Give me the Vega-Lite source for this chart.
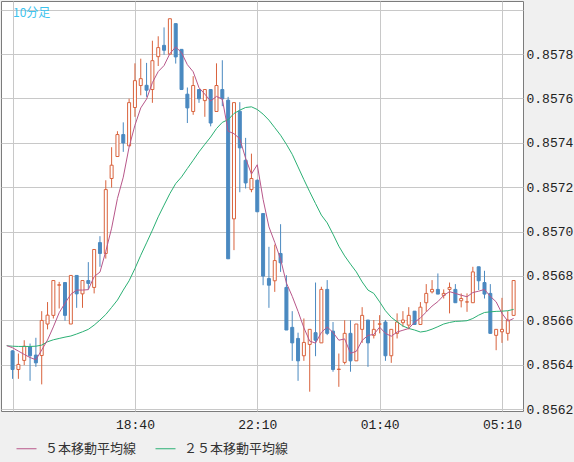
{
  "$schema": "https://vega.github.io/schema/vega-lite/v6.json",
  "width": 522,
  "height": 410,
  "autosize": {"type": "none"},
  "padding": {"left": 1, "top": 1, "right": 51, "bottom": 51},
  "background": "#f0f0f0",
  "config": {
    "view": {"fill": "white", "stroke": "#7c7c7c", "strokeWidth": 1}
  },
  "title": {
    "text": "10分足",
    "anchor": "start",
    "frame": "group",
    "orient": "top",
    "offset": -19,
    "dx": 12,
    "font": "Noto Sans CJK JP",
    "fontSize": 12,
    "fontWeight": "normal",
    "color": "#3cc3ee"
  },
  "data": {
    "values": [
      {"t": "2024-01-01T15:00", "ma5": 0.856486, "ma25": 0.856485},
      {"t": "2024-01-01T15:10", "o": 0.856462, "h": 0.856465, "l": 0.856336, "c": 0.856378, "ma5": 0.856476, "ma25": 0.856483},
      {"t": "2024-01-01T15:20", "o": 0.856378, "h": 0.856450, "l": 0.856336, "c": 0.856401, "ma5": 0.856461, "ma25": 0.856482},
      {"t": "2024-01-01T15:30", "o": 0.856419, "h": 0.856510, "l": 0.856398, "c": 0.856483, "ma5": 0.856446, "ma25": 0.856482},
      {"t": "2024-01-01T15:40", "o": 0.856480, "h": 0.856495, "l": 0.856327, "c": 0.856440, "ma5": 0.856432, "ma25": 0.856482},
      {"t": "2024-01-01T15:50", "o": 0.856443, "h": 0.856521, "l": 0.856390, "c": 0.856408, "ma5": 0.856422, "ma25": 0.856483},
      {"t": "2024-01-01T16:00", "o": 0.856441, "h": 0.856641, "l": 0.856311, "c": 0.856599, "ma5": 0.856466, "ma25": 0.856488},
      {"t": "2024-01-01T16:10", "o": 0.856583, "h": 0.856682, "l": 0.856559, "c": 0.856623, "ma5": 0.856511, "ma25": 0.856503},
      {"t": "2024-01-01T16:20", "o": 0.856622, "h": 0.856780, "l": 0.856608, "c": 0.856779, "ma5": 0.856570, "ma25": 0.856512},
      {"t": "2024-01-01T16:30", "o": 0.856758, "h": 0.856773, "l": 0.856653, "c": 0.856760, "ma5": 0.856634, "ma25": 0.856518},
      {"t": "2024-01-01T16:40", "o": 0.856770, "h": 0.856772, "l": 0.856598, "c": 0.856622, "ma5": 0.856677, "ma25": 0.856524},
      {"t": "2024-01-01T16:50", "o": 0.856583, "h": 0.856802, "l": 0.856583, "c": 0.856802, "ma5": 0.856717, "ma25": 0.856529},
      {"t": "2024-01-01T17:00", "o": 0.856802, "h": 0.856802, "l": 0.856656, "c": 0.856719, "ma5": 0.856736, "ma25": 0.856538},
      {"t": "2024-01-01T17:10", "o": 0.856719, "h": 0.856779, "l": 0.856656, "c": 0.856779, "ma5": 0.856736, "ma25": 0.856548},
      {"t": "2024-01-01T17:20", "o": 0.856779, "h": 0.856862, "l": 0.856739, "c": 0.856766, "ma5": 0.856738, "ma25": 0.856559},
      {"t": "2024-01-01T17:30", "o": 0.856748, "h": 0.856919, "l": 0.856721, "c": 0.856919, "ma5": 0.856797, "ma25": 0.856578},
      {"t": "2024-01-01T17:40", "o": 0.856950, "h": 0.856979, "l": 0.856841, "c": 0.856901, "ma5": 0.856817, "ma25": 0.856601},
      {"t": "2024-01-01T17:50", "o": 0.856901, "h": 0.857231, "l": 0.856878, "c": 0.857189, "ma5": 0.856911, "ma25": 0.856626},
      {"t": "2024-01-01T18:00", "o": 0.857239, "h": 0.857380, "l": 0.857198, "c": 0.857299, "ma5": 0.857015, "ma25": 0.856658},
      {"t": "2024-01-01T18:10", "o": 0.857338, "h": 0.857452, "l": 0.857336, "c": 0.857437, "ma5": 0.857149, "ma25": 0.856691},
      {"t": "2024-01-01T18:20", "o": 0.857437, "h": 0.857492, "l": 0.857359, "c": 0.857399, "ma5": 0.857245, "ma25": 0.856736},
      {"t": "2024-01-01T18:30", "o": 0.857386, "h": 0.857599, "l": 0.857386, "c": 0.857581, "ma5": 0.857381, "ma25": 0.856778},
      {"t": "2024-01-01T18:40", "o": 0.857559, "h": 0.857758, "l": 0.857517, "c": 0.857680, "ma5": 0.857479, "ma25": 0.856833},
      {"t": "2024-01-01T18:50", "o": 0.857658, "h": 0.857779, "l": 0.857614, "c": 0.857689, "ma5": 0.857557, "ma25": 0.856893},
      {"t": "2024-01-01T19:00", "o": 0.857659, "h": 0.857760, "l": 0.857607, "c": 0.857637, "ma5": 0.857597, "ma25": 0.856949},
      {"t": "2024-01-01T19:10", "o": 0.857640, "h": 0.857860, "l": 0.857580, "c": 0.857770, "ma5": 0.857671, "ma25": 0.857006},
      {"t": "2024-01-01T19:20", "o": 0.857788, "h": 0.857880, "l": 0.857746, "c": 0.857829, "ma5": 0.857721, "ma25": 0.857066},
      {"t": "2024-01-01T19:30", "o": 0.857839, "h": 0.857920, "l": 0.857797, "c": 0.857817, "ma5": 0.857748, "ma25": 0.857119},
      {"t": "2024-01-01T19:40", "o": 0.857799, "h": 0.857959, "l": 0.857799, "c": 0.857959, "ma5": 0.857802, "ma25": 0.857171},
      {"t": "2024-01-01T19:50", "o": 0.857937, "h": 0.857937, "l": 0.857757, "c": 0.857787, "ma5": 0.857832, "ma25": 0.857216},
      {"t": "2024-01-01T20:00", "o": 0.857821, "h": 0.857821, "l": 0.857640, "c": 0.857640, "ma5": 0.857806, "ma25": 0.857246},
      {"t": "2024-01-01T20:10", "o": 0.857619, "h": 0.857649, "l": 0.857489, "c": 0.857557, "ma5": 0.857752, "ma25": 0.857284},
      {"t": "2024-01-01T20:20", "o": 0.857541, "h": 0.857700, "l": 0.857526, "c": 0.857658, "ma5": 0.857720, "ma25": 0.857321},
      {"t": "2024-01-01T20:30", "o": 0.857640, "h": 0.857640, "l": 0.857580, "c": 0.857598, "ma5": 0.857648, "ma25": 0.857359},
      {"t": "2024-01-01T20:40", "o": 0.857590, "h": 0.857640, "l": 0.857517, "c": 0.857640, "ma5": 0.857619, "ma25": 0.857393},
      {"t": "2024-01-01T20:50", "o": 0.857640, "h": 0.857640, "l": 0.857474, "c": 0.857489, "ma5": 0.857588, "ma25": 0.857426},
      {"t": "2024-01-01T21:00", "o": 0.857541, "h": 0.857758, "l": 0.857541, "c": 0.857658, "ma5": 0.857609, "ma25": 0.857464},
      {"t": "2024-01-01T21:10", "o": 0.857640, "h": 0.857772, "l": 0.857565, "c": 0.857598, "ma5": 0.857597, "ma25": 0.857492},
      {"t": "2024-01-01T21:20", "o": 0.857592, "h": 0.857607, "l": 0.856877, "c": 0.856877, "ma5": 0.857452, "ma25": 0.857504},
      {"t": "2024-01-01T21:30", "o": 0.857057, "h": 0.857581, "l": 0.856916, "c": 0.857581, "ma5": 0.857441, "ma25": 0.857532},
      {"t": "2024-01-01T21:40", "o": 0.857542, "h": 0.857583, "l": 0.857177, "c": 0.857377, "ma5": 0.857418, "ma25": 0.857547},
      {"t": "2024-01-01T21:50", "o": 0.857321, "h": 0.857422, "l": 0.857194, "c": 0.857219, "ma5": 0.857330, "ma25": 0.857559},
      {"t": "2024-01-01T22:00", "o": 0.857189, "h": 0.857351, "l": 0.857177, "c": 0.857239, "ma5": 0.857259, "ma25": 0.857562},
      {"t": "2024-01-01T22:10", "o": 0.857231, "h": 0.857235, "l": 0.857089, "c": 0.857089, "ma5": 0.857301, "ma25": 0.857550},
      {"t": "2024-01-01T22:20", "o": 0.857081, "h": 0.857081, "l": 0.856758, "c": 0.856799, "ma5": 0.857145, "ma25": 0.857529},
      {"t": "2024-01-01T22:30", "o": 0.856788, "h": 0.856931, "l": 0.856656, "c": 0.856758, "ma5": 0.857021, "ma25": 0.857502},
      {"t": "2024-01-01T22:40", "o": 0.856778, "h": 0.856941, "l": 0.856728, "c": 0.856869, "ma5": 0.856951, "ma25": 0.857468},
      {"t": "2024-01-01T22:50", "o": 0.856901, "h": 0.857033, "l": 0.856818, "c": 0.856859, "ma5": 0.856875, "ma25": 0.857434},
      {"t": "2024-01-01T23:00", "o": 0.856748, "h": 0.856803, "l": 0.856556, "c": 0.856556, "ma5": 0.856768, "ma25": 0.857393},
      {"t": "2024-01-01T23:10", "o": 0.856568, "h": 0.856641, "l": 0.856417, "c": 0.856498, "ma5": 0.856708, "ma25": 0.857348},
      {"t": "2024-01-01T23:20", "o": 0.856518, "h": 0.856544, "l": 0.856327, "c": 0.856417, "ma5": 0.856640, "ma25": 0.857291},
      {"t": "2024-01-01T23:30", "o": 0.856440, "h": 0.856608, "l": 0.856417, "c": 0.856500, "ma5": 0.856566, "ma25": 0.857234},
      {"t": "2024-01-01T23:40", "o": 0.856491, "h": 0.856559, "l": 0.856278, "c": 0.856559, "ma5": 0.856506, "ma25": 0.857179},
      {"t": "2024-01-01T23:50", "o": 0.856544, "h": 0.856770, "l": 0.856438, "c": 0.856510, "ma5": 0.856497, "ma25": 0.857126},
      {"t": "2024-01-02T00:00", "o": 0.856498, "h": 0.856751, "l": 0.856498, "c": 0.856739, "ma5": 0.856545, "ma25": 0.857074},
      {"t": "2024-01-02T00:10", "o": 0.856739, "h": 0.856781, "l": 0.856533, "c": 0.856541, "ma5": 0.856570, "ma25": 0.857039},
      {"t": "2024-01-02T00:20", "o": 0.856551, "h": 0.856592, "l": 0.856368, "c": 0.856378, "ma5": 0.856545, "ma25": 0.856988},
      {"t": "2024-01-02T00:30", "o": 0.856378, "h": 0.856450, "l": 0.856300, "c": 0.856380, "ma5": 0.856510, "ma25": 0.856934},
      {"t": "2024-01-02T00:40", "o": 0.856410, "h": 0.856600, "l": 0.856401, "c": 0.856541, "ma5": 0.856516, "ma25": 0.856890},
      {"t": "2024-01-02T00:50", "o": 0.856541, "h": 0.856600, "l": 0.856368, "c": 0.856417, "ma5": 0.856451, "ma25": 0.856853},
      {"t": "2024-01-02T01:00", "o": 0.856417, "h": 0.856583, "l": 0.856417, "c": 0.856583, "ma5": 0.856460, "ma25": 0.856818},
      {"t": "2024-01-02T01:10", "o": 0.856559, "h": 0.856659, "l": 0.856498, "c": 0.856622, "ma5": 0.856509, "ma25": 0.856773},
      {"t": "2024-01-02T01:20", "o": 0.856601, "h": 0.856601, "l": 0.856390, "c": 0.856498, "ma5": 0.856532, "ma25": 0.856736},
      {"t": "2024-01-02T01:30", "o": 0.856532, "h": 0.856601, "l": 0.856518, "c": 0.856559, "ma5": 0.856536, "ma25": 0.856721},
      {"t": "2024-01-02T01:40", "o": 0.856582, "h": 0.856623, "l": 0.856541, "c": 0.856584, "ma5": 0.856569, "ma25": 0.856683},
      {"t": "2024-01-02T01:50", "o": 0.856592, "h": 0.856601, "l": 0.856417, "c": 0.856440, "ma5": 0.856541, "ma25": 0.856643},
      {"t": "2024-01-02T02:00", "o": 0.856440, "h": 0.856559, "l": 0.856408, "c": 0.856559, "ma5": 0.856528, "ma25": 0.856613},
      {"t": "2024-01-02T02:10", "o": 0.856541, "h": 0.856631, "l": 0.856518, "c": 0.856592, "ma5": 0.856547, "ma25": 0.856593},
      {"t": "2024-01-02T02:20", "o": 0.856589, "h": 0.856641, "l": 0.856571, "c": 0.856601, "ma5": 0.856555, "ma25": 0.856574},
      {"t": "2024-01-02T02:30", "o": 0.856578, "h": 0.856659, "l": 0.856559, "c": 0.856622, "ma5": 0.856563, "ma25": 0.856563},
      {"t": "2024-01-02T02:40", "o": 0.856641, "h": 0.856641, "l": 0.856581, "c": 0.856581, "ma5": 0.856591, "ma25": 0.856556},
      {"t": "2024-01-02T02:50", "o": 0.856581, "h": 0.856682, "l": 0.856581, "c": 0.856659, "ma5": 0.856611, "ma25": 0.856547},
      {"t": "2024-01-02T03:00", "o": 0.856679, "h": 0.856763, "l": 0.856638, "c": 0.856721, "ma5": 0.856637, "ma25": 0.856551},
      {"t": "2024-01-02T03:10", "o": 0.856728, "h": 0.856781, "l": 0.856721, "c": 0.856739, "ma5": 0.856664, "ma25": 0.856560},
      {"t": "2024-01-02T03:20", "o": 0.856739, "h": 0.856811, "l": 0.856718, "c": 0.856718, "ma5": 0.856684, "ma25": 0.856571},
      {"t": "2024-01-02T03:30", "o": 0.856712, "h": 0.856739, "l": 0.856698, "c": 0.856721, "ma5": 0.856712, "ma25": 0.856583},
      {"t": "2024-01-02T03:40", "o": 0.856739, "h": 0.856770, "l": 0.856631, "c": 0.856748, "ma5": 0.856729, "ma25": 0.856590},
      {"t": "2024-01-02T03:50", "o": 0.856739, "h": 0.856763, "l": 0.856679, "c": 0.856679, "ma5": 0.856721, "ma25": 0.856595},
      {"t": "2024-01-02T04:00", "o": 0.856688, "h": 0.856721, "l": 0.856658, "c": 0.856698, "ma5": 0.856713, "ma25": 0.856596},
      {"t": "2024-01-02T04:10", "o": 0.856682, "h": 0.856721, "l": 0.856638, "c": 0.856683, "ma5": 0.856706, "ma25": 0.856598},
      {"t": "2024-01-02T04:20", "o": 0.856679, "h": 0.856841, "l": 0.856679, "c": 0.856818, "ma5": 0.856725, "ma25": 0.856608},
      {"t": "2024-01-02T04:30", "o": 0.856841, "h": 0.856841, "l": 0.856736, "c": 0.856778, "ma5": 0.856731, "ma25": 0.856623},
      {"t": "2024-01-02T04:40", "o": 0.856770, "h": 0.856823, "l": 0.856698, "c": 0.856718, "ma5": 0.856739, "ma25": 0.856635},
      {"t": "2024-01-02T04:50", "o": 0.856721, "h": 0.856763, "l": 0.856541, "c": 0.856541, "ma5": 0.856708, "ma25": 0.856638},
      {"t": "2024-01-02T05:00", "o": 0.856532, "h": 0.856559, "l": 0.856465, "c": 0.856559, "ma5": 0.856683, "ma25": 0.856640},
      {"t": "2024-01-02T05:10", "o": 0.856548, "h": 0.856701, "l": 0.856498, "c": 0.856559, "ma5": 0.856631, "ma25": 0.856641},
      {"t": "2024-01-02T05:20", "o": 0.856541, "h": 0.856641, "l": 0.856508, "c": 0.856601, "ma5": 0.856596, "ma25": 0.856643},
      {"t": "2024-01-02T05:30", "o": 0.856622, "h": 0.856779, "l": 0.856622, "c": 0.856779, "ma5": 0.856608, "ma25": 0.856649}
    ]
  },
  "encoding": {
    "x": {
      "field": "t",
      "type": "temporal",
      "title": null,
      "scale": {
        "domain": [
          {"year": 2024, "month": 1, "date": 1, "hours": 14, "minutes": 58, "seconds": 43},
          {"year": 2024, "month": 1, "date": 2, "hours": 5, "minutes": 37, "seconds": 30}
        ]
      },
      "axis": {
        "values": [
          {"year": 2024, "month": 1, "date": 1, "hours": 15, "minutes": 10},
          {"year": 2024, "month": 1, "date": 1, "hours": 18, "minutes": 40},
          {"year": 2024, "month": 1, "date": 1, "hours": 22, "minutes": 10},
          {"year": 2024, "month": 1, "date": 2, "hours": 1, "minutes": 40},
          {"year": 2024, "month": 1, "date": 2, "hours": 5, "minutes": 10}
        ],
        "labelExpr": "hours(datum.value) == 15 ? '' : timeFormat(datum.value, '%H:%M')",
        "grid": true,
        "gridColor": "#c8c8c8",
        "gridOpacity": 1,
        "ticks": false,
        "domain": false,
        "labelFont": "Liberation Mono",
        "labelFontSize": 13,
        "labelColor": "#222222",
        "labelPadding": 7,
        "labelFlush": false,
        "labelOverlap": false
      }
    }
  },
  "layer": [
    {
      "transform": [{"filter": "isValid(datum.o)"}],
      "mark": {"type": "rule", "strokeWidth": 1},
      "encoding": {
        "y": {
          "field": "l",
          "type": "quantitative",
          "title": null,
          "scale": {"domain": [0.856191, 0.858039], "zero": false, "nice": false},
          "axis": {
            "orient": "right",
            "values": [0.8562, 0.8564, 0.8566, 0.8568, 0.857, 0.8572, 0.8574, 0.8576, 0.8578, 0.858],
            "labelExpr": "datum.value > 0.85795 ? '' : format(datum.value, '.4f')",
            "grid": true,
            "gridColor": "#c8c8c8",
            "gridOpacity": 1,
            "ticks": false,
            "domain": false,
            "labelFont": "Liberation Mono",
            "labelFontSize": 13,
            "labelColor": "#222222",
            "labelPadding": 3,
            "labelFlush": false,
            "labelOverlap": false
          }
        },
        "y2": {"field": "h"},
        "color": {"condition": {"test": "datum.c >= datum.o", "value": "#d9633d"}, "value": "#4a89c0"}
      }
    },
    {
      "transform": [{"filter": "isValid(datum.o)"}],
      "mark": {"type": "bar", "width": 3, "strokeWidth": 1},
      "encoding": {
        "y": {"field": "o", "type": "quantitative", "title": null},
        "y2": {"field": "c"},
        "fill": {"condition": {"test": "datum.c >= datum.o", "value": "#ffffff"}, "value": "#4a89c0"},
        "stroke": {"condition": {"test": "datum.c >= datum.o", "value": "#d9633d"}, "value": "#4a89c0"}
      }
    },
    {
      "transform": [{"fold": ["ma25", "ma5"], "as": ["series", "value"]}],
      "mark": {"type": "line", "strokeWidth": 1},
      "encoding": {
        "y": {"field": "value", "type": "quantitative", "title": null},
        "color": {
          "field": "series",
          "type": "nominal",
          "scale": {"domain": ["ma5", "ma25"], "range": ["#b8578a", "#2bb074"]},
          "legend": {
            "orient": "none",
            "legendX": 15,
            "legendY": 437,
            "direction": "horizontal",
            "title": null,
            "symbolType": "stroke",
            "symbolSize": 400,
            "symbolStrokeWidth": 1,
            "labelExpr": "datum.value == 'ma5' ? '５本移動平均線' : '２５本移動平均線'",
            "labelFont": "Noto Sans CJK JP",
            "labelFontSize": 13,
            "labelColor": "#333333",
            "labelOffset": 8,
            "columnPadding": 16
          }
        }
      }
    }
  ]
}
